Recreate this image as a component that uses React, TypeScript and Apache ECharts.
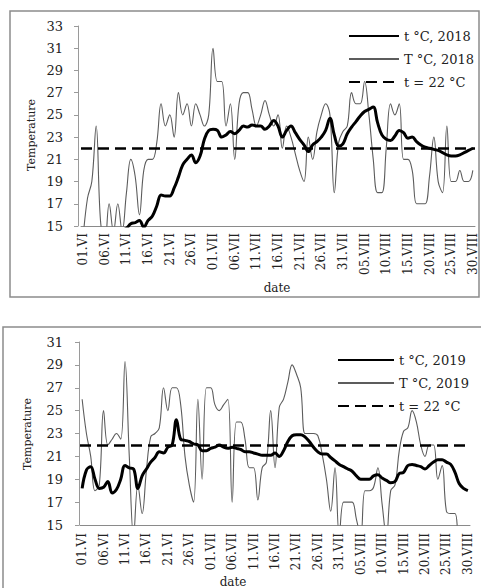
import React, { useEffect, useRef } from "react";
import * as echarts from "echarts";

// ---- categories (dates 01.VI .. 30.VIII) ----
const MONTHS: [string, number][] = [["VI", 30], ["VII", 31], ["VIII", 30]];
const dates: string[] = MONTHS.flatMap(([m, n]) =>
  Array.from({ length: n }, (_, k) => `${String(k + 1).padStart(2, "0")}.${m}`)
);

// ---- axis ranges / ticks ----
const Y_TOP = { min: 15, max: 33, step: 2 };
const Y_BOTTOM = { min: 15, max: 31, step: 2 };
const THRESHOLD = 22;

// ---- series names ----
const NAME_T18 = "t °C, 2018";
const NAME_TT18 = "T °C, 2018";
const NAME_T19 = "t °C, 2019";
const NAME_TT19 = "T °C, 2019";
const NAME_THR = "t = 22 °C";

// ---- 2018 ----
const t2018 = [
  13, 13.2, 13.4, 13.5, 13.6, 13.8, 14, 14.2, 14.4, 14.6,
  14.8, 15.2, 15.3, 15.5, 14.9, 15.5, 15.9, 16.8, 17.8, 17.7,
  17.7, 18.4, 19.4, 20.5, 21.0, 21.4, 20.7, 21.3, 22.8, 23.6,
  23.7, 23.6, 23.0, 23.2, 23.5, 23.3, 23.6, 24.0, 23.9, 24.1,
  24.0, 24.0, 23.7, 24.0, 24.5, 24.0, 23.0, 23.6, 24.0, 23.4,
  22.8, 22.3, 21.7, 22.3, 22.6, 23.0, 23.6, 24.7, 23.2, 22.2,
  22.4, 23.3, 23.9, 24.4, 24.9, 25.3, 25.5, 25.7, 24.3, 23.2,
  22.8, 22.7, 23.1, 23.6, 23.4, 22.9, 23.0, 22.6, 22.3, 22.1,
  22.0, 21.9, 21.8, 21.6, 21.4, 21.3, 21.3, 21.4, 21.6, 21.8, 22.0,
];
const T2018 = [
  14, 17.5, 19, 24, 15.5, 13.5, 17, 14.5, 17, 14.5,
  18, 21, 19.5, 16, 20, 21, 21, 22.5, 26, 24,
  25, 23, 27, 25, 26, 24, 26, 25, 24, 25,
  31, 28, 28, 24, 26, 21, 26, 27, 27, 25.5,
  24, 25, 26.3, 25, 24, 25, 22, 24, 23, 21.5,
  20, 19, 23, 21, 23.5, 25, 26, 25, 18, 22.5,
  23.5, 24, 27, 26, 26, 28, 25, 21, 18, 18,
  22, 26, 25, 26, 21, 21, 20, 17, 17, 17,
  19.5, 23, 19, 18, 24, 19, 19, 20, 19, 19, 20,
];

// ---- 2019 ----
const t2019 = [
  18.2, 19.8, 20.1, 19, 18.2, 18.3, 18.8, 17.8, 18.1, 19,
  20.2, 20, 19.9, 18.2, 19.3, 19.9, 20.5, 20.9, 21.4, 21.3,
  21.8, 22, 24.2, 22.5, 22.4, 22.3, 22.1, 22, 21.5, 21.5,
  21.7, 21.8, 22, 21.8, 21.7, 21.8, 21.7, 21.6, 21.4, 21.4,
  21.3, 21.2, 21.1, 21.1, 21.1, 21.3, 21, 21.5, 22.3, 22.8,
  22.9, 22.9, 22.7, 22.3, 21.8, 21.4, 21.2, 21.2, 20.9, 20.6,
  20.3, 20.1, 19.9, 19.7, 19.3, 19, 19, 19, 19.3, 19.4,
  19.1, 18.9, 18.7, 18.8, 19.5, 19.6, 20.2, 20.3, 20.2, 20.1,
  19.9, 20.2, 20.5, 20.7, 20.7, 20.5, 20.3, 19.6, 18.6, 18.2, 18,
];
const T2019 = [
  26, 23, 21, 18, 18.5, 25, 22, 22.5, 23, 22.5,
  29.3, 21, 14, 18.5, 16, 19.8, 22.7, 23, 23.5, 27,
  25, 27, 27, 25.5, 21, 18.5, 17, 26, 19, 27,
  27, 25.5, 25, 25.5, 26, 17, 24, 24, 22.5, 20,
  20, 17.2, 20, 20.5, 25, 20, 25.3, 26, 27.5, 29,
  28.2, 27, 23, 23, 23, 22.8, 21.2, 19, 16.2, 20,
  14, 17, 17, 17, 15.5, 14, 18, 18, 18.3, 20,
  16.8, 14, 18, 18.5, 21.5, 23.2, 23.5, 25, 24, 22,
  21, 22, 22, 19, 20.2, 16.2, 16, 16, 14, 14, 14,
];

const FONT = '"DejaVu Serif", serif';
const TEXT = "#222";
const AXIS = "#9a9a9a";
const DASH = [11, 6];

function thick(name: string, data: number[], idx: number) {
  return {
    name, type: "line", xAxisIndex: idx, yAxisIndex: idx, data,
    smooth: 0.4, showSymbol: false, symbol: "none", z: 3,
    lineStyle: { color: "#000", width: 3 }, itemStyle: { color: "#000" },
  };
}
function thin(name: string, data: number[], idx: number) {
  return {
    name, type: "line", xAxisIndex: idx, yAxisIndex: idx, data,
    smooth: 0.4, showSymbol: false, symbol: "none", z: 2,
    lineStyle: { color: "#5c5c5c", width: 1.1 }, itemStyle: { color: "#5c5c5c" },
  };
}
function thr(idx: number) {
  return {
    name: NAME_THR, type: "line", xAxisIndex: idx, yAxisIndex: idx, data: [],
    symbol: "none", z: 4,
    lineStyle: { color: "#000", width: 2.6, type: DASH }, itemStyle: { color: "#000" },
    markLine: {
      silent: true, symbol: ["none", "none"], label: { show: false },
      lineStyle: { color: "#000", width: 2.6, type: DASH },
      data: [{ yAxis: THRESHOLD }],
    },
  };
}

function yAxis(idx: number, r: { min: number; max: number; step: number }, offset: number, margin: number) {
  return {
    type: "value", gridIndex: idx, min: r.min, max: r.max, interval: r.step, offset,
    axisLine: { show: true, lineStyle: { color: AXIS, width: 1 } },
    axisTick: { show: true, length: 4, lineStyle: { color: AXIS } },
    axisLabel: { margin, fontSize: 13, color: TEXT, fontFamily: FONT },
    splitLine: { show: false },
  };
}
function xAxis(idx: number, margin: number) {
  return {
    type: "category", gridIndex: idx, data: dates, boundaryGap: true,
    axisLine: { show: true, lineStyle: { color: "#8a8a8a", width: 1 } },
    axisTick: { show: false },
    axisLabel: { interval: 4, rotate: 90, margin, fontSize: 12, color: TEXT, fontFamily: FONT },
    splitLine: { show: false },
  };
}
function legend(names: string[], left: number, top: number, w: number) {
  return {
    orient: "vertical", left, top, itemWidth: w, itemHeight: 14, itemGap: 9,
    selectedMode: false, data: names,
    itemStyle: { opacity: 0, borderWidth: 0 },
    textStyle: { fontSize: 13, color: TEXT, fontFamily: FONT, lineHeight: 14 },
  };
}
function vText(text: string, x: number, y: number) {
  return {
    type: "text", x, y, rotation: Math.PI / 2, silent: true,
    style: { text, fontSize: 11, fontFamily: FONT, fill: TEXT, align: "center", verticalAlign: "middle" },
  };
}
function hText(text: string, x: number, y: number) {
  return {
    type: "text", x, y, silent: true,
    style: { text, fontSize: 12, fontFamily: FONT, fill: TEXT, align: "center", verticalAlign: "middle" },
  };
}

export default function App() {
  const ref = useRef<HTMLDivElement>(null);
  useEffect(() => {
    if (!ref.current) return;
    const chart = echarts.init(ref.current, null, { renderer: "svg" });
    chart.setOption({
      animation: false,
      backgroundColor: "#fff",
      textStyle: { fontFamily: FONT },
      grid: [
        { left: 81, top: 26, width: 394, height: 200 },
        { left: 80, top: 342, width: 390, height: 183 },
      ],
      xAxis: [xAxis(0, 7), xAxis(1, 8)],
      yAxis: [yAxis(0, Y_TOP, 3, 15), yAxis(1, Y_BOTTOM, 1, 16)],
      legend: [
        legend([NAME_T18, NAME_TT18, NAME_THR], 343, 24, 50),
        legend([NAME_T19, NAME_TT19, NAME_THR], 332, 348, 56),
      ],
      series: [
        thin(NAME_TT18, T2018, 0),
        thick(NAME_T18, t2018, 0),
        thr(0),
        thin(NAME_TT19, T2019, 1),
        thick(NAME_T19, t2019, 1),
        thr(1),
      ],
      graphic: [
        { type: "rect", silent: true, z: -1, shape: { x: 10, y: 11, width: 469, height: 286 },
          style: { fill: "none", stroke: "#8c8c8c", lineWidth: 1.5 } },
        { type: "rect", silent: true, z: -1, shape: { x: 3, y: 327, width: 520, height: 320 },
          style: { fill: "none", stroke: "#8c8c8c", lineWidth: 1.5 } },
        vText("Temperature", 31, 135),
        vText("Temperature", 27, 434),
        hText("date", 277, 288),
        hText("date", 233, 582),
      ],
    });
    return () => chart.dispose();
  }, []);
  return (
    <div
      ref={ref}
      style={{ position: "absolute", left: 0, top: 0, width: 481, height: 588 }}
    />
  );
}
